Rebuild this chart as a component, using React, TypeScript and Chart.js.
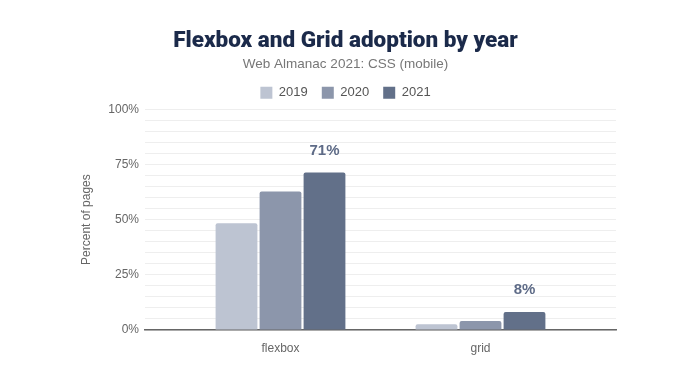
import React, { useEffect, useRef } from "react";
import { Chart, registerables } from "chart.js";

Chart.register(...registerables);

const categories = ["flexbox", "grid"];
const years = ["2019", "2020", "2021"];
const values2019 = [48.3, 2.6];
const values2020 = [62.7, 4.1];
const values2021 = [71.3, 8.2];
const labels2021 = ["71%", "8%"];
const yTickLabels = ["0%", "25%", "50%", "75%", "100%"];
const colors = ["#bdc4d2", "#8c96ab", "#627089"];

const topLabels = {
  id: "topLabels",
  afterDatasetsDraw(chart: any) {
    const meta = chart.getDatasetMeta(2);
    const ctx = chart.ctx;
    ctx.save();
    ctx.font = "bold 15px 'Liberation Sans', Arial, sans-serif";
    ctx.fillStyle = "#5e6b87";
    ctx.textAlign = "center";
    ctx.textBaseline = "middle";
    meta.data.forEach((el: any, i: number) => {
      ctx.fillText(labels2021[i], el.x, el.y - 22);
    });
    ctx.restore();
  },
};

export default function App() {
  const ref = useRef<HTMLCanvasElement | null>(null);
  useEffect(() => {
    document.body.style.margin = "0";
    Chart.defaults.font.family = "'Liberation Sans', Arial, sans-serif";
    const datasets = [values2019, values2020, values2021].map((vals, d) => ({
      label: years[d],
      data: vals.map((v, i) => ({ x: i, y: v })),
      backgroundColor: colors[d],
      borderRadius: 2,
      borderSkipped: "bottom" as const,
      barPercentage: 0.95,
      categoryPercentage: 0.66,
    }));
    const chart = new Chart(ref.current!, {
      type: "bar",
      data: { datasets },
      plugins: [topLabels],
      options: {
        animation: false,
        responsive: false,
        layout: { padding: { left: 75, right: 82, bottom: 12, top: 0 } },
        plugins: {
          title: {
            display: true,
            text: "Flexbox and Grid adoption by year",
            color: "#1b2a4a",
            font: { size: 22.5, weight: 900, family: "Roboto, 'Liberation Sans', sans-serif" },
            padding: { top: 28, bottom: 0 },
          },
          subtitle: {
            display: true,
            text: "Web Almanac 2021: CSS (mobile)",
            color: "#777",
            font: { size: 13.5 },
            padding: { top: 1, bottom: 0 },
          },
          legend: {
            display: true,
            labels: {
              boxWidth: 12,
              boxHeight: 12,
              padding: 14,
              color: "#555",
              font: { size: 13 },
            },
          },
          tooltip: { enabled: false },
        },
        scales: {
          x: {
            type: "linear",
            offset: false,
            min: -0.6775,
            max: 1.6775,
            afterBuildTicks(scale: any) {
              scale.ticks = categories.map((_, i) => ({ value: i }));
            },
            ticks: {
              color: "#666",
              font: { size: 12 },
              autoSkip: false,
              maxRotation: 0,
              callback: (v: any) => categories[Math.round(Number(v))],
            },
            grid: { display: false },
            border: { display: true, color: "#666", width: 1.5 },
            afterFit(scale: any) {
              scale.height = 30;
            },
          },
          y: {
            min: 0,
            max: 100,
            ticks: {
              stepSize: 5,
              autoSkip: false,
              color: "#666",
              font: { size: 12 },
              padding: 6,
              callback: (v: any) => (Number(v) % 25 === 0 ? yTickLabels[Number(v) / 25] : ""),
            },
            grid: { color: "#eeeeee", drawTicks: false },
            border: { display: false },
            title: {
              display: true,
              text: "Percent of pages",
              color: "#666",
              font: { size: 12 },
            },
            afterFit(scale: any) {
              scale.width = 70;
            },
          },
        },
      },
    });
    return () => chart.destroy();
  }, []);
  return (
    <div style={{ width: 698, height: 372 }}>
      <canvas ref={ref} width={698} height={372} style={{ display: "block" }} />
    </div>
  );
}
